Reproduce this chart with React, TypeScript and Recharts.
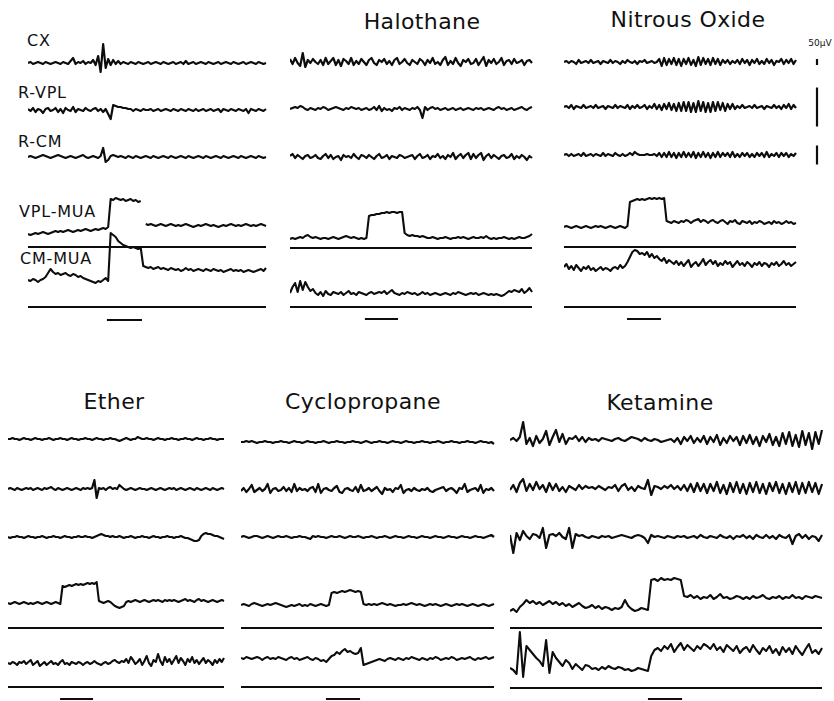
import React from 'react';
import { LineChart, Line, XAxis, YAxis, ReferenceLine } from 'recharts';

// ---------- channel / panel labels ----------
const channelLabels = ['CX', 'R-VPL', 'R-CM', 'VPL-MUA', 'CM-MUA'];
const panelTitles = ['', 'Halothane', 'Nitrous Oxide', 'Ether', 'Cyclopropane', 'Ketamine'];
const scaleBarLabel = '50µV';
const scaleBarSizes = [6, 39, 19]; // CX, R-VPL, R-CM (trace units)

// stimulus on/off (sample index)
const stimP1 = [31.5, 45.5];
const stimP2 = [29.4, 42.4];
const stimP3 = [25.8, 39.7];
const stimP4 = [22.9, 37.4];
const stimP5 = [31.9, 44.7];
const stimP6 = [42.0, 52.4];

// ---------- Panel 1 (control) ----------
const p1Cx = [0,1,-1,0,1,0,-1,1,0,-1,0,1, 0,-1,1,0,-1,2,5,-1,1,0,2,-1, 1,0,3,-2,7,-9,19,-5,4,-2,3,-1, 2,-1,1,0,-1,1,0,-1,1,0,-1,0, 1,-1,0,1,0,-1,1,0,-1,0,1,-1, 0,1,-1,2,-1,0,1,-1,0,1,0,-1, 1,0,-1,0,1,-1,0,1,0,-1,1,0, -1,0,1,-1,0,1,0,-1,1,0,-1,0];
const p1Vpl = [1,-1,2,-2,1,0,-3,1,2,-1,0,2, -2,1,-3,2,0,-1,3,-2,1,0,-1,2, 0,-1,1,2,-1,1,-2,1,-4,-9,5,4, 3,3,2,2,1,1,-1,1,0,-1,1,0, 0,1,-1,0,1,-1,0,1,0,-1,1,0, -1,1,0,-1,1,0,-1,1,-1,0,1,-1, 0,1,-1,0,1,-2,1,0,-1,1,0,-1, 1,0,-1,1,-3,1,0,-1,1,0,-1,1];
const p1Cm = [0,1,0,-1,0,1,2,1,0,-1,0,1, 2,1,0,-1,0,1,0,-1,0,1,2,0, -1,0,1,0,-1,1,9,-5,-3,1,2,1, 0,1,0,-1,1,0,-1,1,0,-1,0,1, 0,-1,1,0,-1,0,1,0,-1,1,0,-1, 0,1,0,-1,1,0,-1,0,1,0,-1,1, 0,-1,0,1,0,-1,1,0,-1,0,1,0, -1,1,0,-1,0,1,0,-1,1,0,-1,0];
const p1Vmua = [13,12,13,14,13,14,15,14,13,14,15,16, 15,16,15,16,17,16,15,16,17,16,17,18, 17,16,17,18,17,18,19,18,20,48,47,49, 48,47,48,46,47,48,46,47,45,46,null,23, 22,23,22,21,22,23,22,21,22,23,22,21, 22,21,22,23,22,21,20,21,22,21,22,23, 22,21,22,21,20,21,22,21,22,23,22,21, 22,21,22,23,22,21,22,21,22,23,22,21];
const p1Cmua = [27,26,28,27,25,27,28,30,34,38,35,33, 34,32,33,34,32,31,33,32,30,31,29,28, 27,26,25,24,26,25,27,29,26,74,72,70, 66,64,62,61,60,59,60,59,58,59,41,40, 39,40,38,39,40,38,39,38,37,39,38,37, 38,36,37,39,37,38,36,37,38,37,36,38, 37,36,38,37,36,37,35,36,37,38,36,37, 36,37,35,36,37,36,35,36,37,38,36,39];

// ---------- Panel 2 (Halothane) ----------
const p2Cx = [3,-2,4,-1,-4,9,-5,2,-1,3,0,-2, 2,-3,4,-2,1,4,-3,2,-4,3,1,-2, 4,-3,1,-2,3,0,-3,2,4,-1,-3,2, 0,3,-2,1,-3,2,4,-2,0,3,-1,-3, 2,0,-2,3,1,-3,2,-1,4,-2,0,-3, 2,5,-3,1,-2,4,-1,-4,2,0,3,-2, -1,3,-3,1,5,-4,2,-1,3,-2,0,4, -3,1,2,-2,3,-1,0,2,-3,1,2,-1];
const p2Vpl = [0,1,2,1,3,2,0,-1,1,0,-1,1, 0,2,1,-1,0,1,2,1,0,-1,1,0, 2,1,0,1,-1,0,1,-1,0,2,-1,3, -2,1,-1,0,-2,1,0,2,-1,1,0,-1, 1,0,2,-1,-9,2,-1,1,2,0,1,-1, 0,1,-1,0,1,-1,0,1,-1,0,1,0, -1,1,0,1,-1,0,1,0,-1,1,2,0, 1,-1,0,1,-1,0,1,2,0,-1,1,2];
const p2Cm = [1,3,-1,2,0,-2,1,2,-1,0,2,-1, -2,1,3,-1,2,-2,0,1,-3,2,0,1, -1,3,0,-2,2,1,-1,2,0,-2,1,3, -1,0,2,-2,1,0,-1,2,1,-1,0,1, 2,-2,1,3,-1,0,2,-2,1,0,3,-1, 1,-2,2,0,4,-2,1,3,-1,2,4,-2, 3,-1,2,4,-3,1,3,-1,2,0,-2,1, 2,-1,0,3,-2,1,-1,2,0,-3,1,-1];
const p2Vmua = [9,10,9,10,11,10,12,13,11,10,11,10, 9,10,10,9,10,11,10,9,10,11,12,11, 10,11,10,9,10,9,10,32,33,33,34,34, 35,35,36,35,36,36,35,36,36,15,13,12, 13,12,12,11,12,11,10,10,11,10,9,10, 10,11,10,9,10,10,11,10,11,10,9,10, 11,10,10,11,10,12,10,9,10,9,10,10, 11,10,9,10,9,10,11,10,10,11,12,14];
const p2Cmua = [14,20,24,15,26,17,25,20,16,18,14,12, 15,11,16,13,12,15,14,13,15,12,14,16, 13,14,12,15,14,13,12,14,15,13,14,15, 14,16,13,15,17,14,13,12,14,13,15,14, 13,14,12,13,15,13,14,12,13,14,13,12, 13,14,13,12,14,13,15,14,13,12,13,14, 13,14,12,13,14,13,12,13,12,13,12,11, 12,14,16,15,17,16,15,18,14,16,19,15];

// ---------- Panel 3 (Nitrous Oxide) ----------
const p3Cx = [0,1,-1,1,0,-2,2,-1,0,1,-1,2, -1,0,1,-2,1,0,-1,2,-1,1,0,-2, 1,-1,2,0,-1,1,-2,1,0,2,-1,0, 1,-1,0,3,-4,4,-3,3,-2,4,-3,3, -4,3,-2,4,-3,2,-4,5,-3,4,-2,3, -3,4,-2,3,-3,2,-1,2,-2,1,-1,2, -2,3,-1,2,-3,2,-1,3,-2,1,-2,3, -1,2,-3,1,0,3,-2,2,-1,3,-2,2];
const p3Vpl = [0,1,-1,2,-2,1,0,-1,2,-1,0,1, -1,2,-1,0,1,-2,1,0,-1,2,-1,1, 0,-1,2,-2,1,-1,2,-1,0,2,-2,1, -1,3,-2,2,-3,3,-2,4,-3,3,-4,4, -4,5,-4,5,-5,4,-5,6,-4,5,-5,4, -5,5,-4,5,-3,4,-4,3,-2,3,-2,1, -1,2,-1,0,1,-1,2,-1,0,1,-2,1, 0,-1,2,-1,1,-2,2,-1,3,-2,2,-1];
const p3Cm = [0,1,-1,1,-1,0,1,-1,2,-1,0,1, -1,1,0,-1,2,-1,1,0,-1,2,0,-1, 1,-1,0,2,0,3,1,0,0,0,1,0, 0,1,-1,2,-2,2,-2,3,-2,2,-3,2, -2,3,-2,2,-2,3,-3,2,-2,3,-2,2, -3,2,-2,3,-2,2,-1,2,-2,3,-2,1, -2,2,-1,2,-2,1,-2,2,-1,2,-2,3, -2,1,-1,2,-2,2,-1,2,-2,1,-1,2];
const p3Vmua = [20,21,20,19,20,21,20,19,20,21,20,19, 20,21,20,21,20,19,20,21,20,19,20,21, 20,19,21,45,46,47,48,47,48,47,48,49, 48,49,48,49,48,49,26,25,24,26,25,24, 26,25,27,26,24,26,27,28,25,27,26,24, 26,27,25,24,26,27,25,23,26,25,27,24, 23,26,25,24,26,23,25,24,26,25,23,24, 25,23,26,24,25,23,24,26,24,25,23,24];
const p3Cmua = [40,43,38,41,37,42,39,36,40,38,41,37, 39,36,38,40,37,39,38,36,39,40,38,42, 39,41,45,50,55,57,56,53,54,52,55,50, 53,49,51,48,46,49,44,47,45,43,46,42, 45,41,44,47,40,43,45,41,44,48,42,45, 47,43,46,41,44,42,46,43,45,40,43,46, 42,44,41,45,43,40,44,42,45,41,44,43, 40,44,42,45,41,43,46,42,44,41,43,45];

// ---------- Panel 4 (Ether) ----------
const p4Cx = [0,0,1,0,0,-1,0,1,0,0,-1,0, 1,0,0,-1,0,0,1,0,-1,0,0,1, 0,0,-1,0,1,0,0,-1,0,0,1,0, 0,-1,0,1,0,0,-1,0,0,1,0,0, -1,-2,-1,0,1,0,-1,0,0,2,1,0, 0,1,0,0,-1,0,1,0,0,-1,0,0, 1,0,0,-1,0,0,1,0,0,-1,0,1, 0,0,-1,0,0,1,0,0,-1,0,0,0];
const p4Vpl = [0,1,0,-1,1,0,-1,0,1,0,1,-1, 0,1,0,-1,1,0,1,2,0,-1,1,0, -1,0,1,0,-1,0,1,0,-1,1,0,1, 0,1,9,-9,1,0,1,-1,1,2,0,1, 0,4,2,0,-1,0,1,0,-1,0,1,0, 0,-1,0,1,0,-1,0,1,0,-1,0,1, 0,1,-1,0,1,0,-1,0,1,0,-1,1, 0,-1,0,1,0,-1,1,0,-1,0,1,0];
const p4Cm = [0,-1,0,0,1,0,0,-1,0,1,0,0, -1,0,0,1,0,-1,0,0,1,0,0,-1, 0,1,0,0,-1,0,0,1,0,0,1,0, 0,-1,0,1,2,3,2,1,1,0,1,0, 0,1,0,-1,0,0,1,0,-1,0,0,1, 0,0,-1,0,1,0,0,-1,0,0,1,0, 0,-1,0,0,1,0,-1,-1,-2,-3,-4,-4, -3,1,3,4,3,3,2,1,1,0,-1,-2];
const p4Vmua = [25,24,25,26,25,24,25,26,25,24,25,24, 25,26,25,24,25,26,25,24,25,26,25,24, 42,41,42,43,42,43,44,43,44,43,44,45, 44,45,44,46,27,26,25,26,27,26,24,22, 21,20,21,22,26,27,26,27,28,27,26,27, 28,27,26,27,28,27,28,27,26,28,27,28, 27,28,27,26,27,28,29,27,28,27,26,28, 29,27,28,27,26,27,28,27,26,27,28,27];
const p4Cmua = [24,23,25,24,22,25,24,26,23,25,27,22, 24,26,21,23,25,22,24,26,23,24,22,25, 27,23,24,22,25,24,23,25,24,22,24,25, 23,24,26,24,23,22,24,25,23,24,26,27, 25,24,26,25,28,24,30,27,23,25,28,22, 26,31,24,21,27,25,33,26,22,30,25,28, 23,27,31,24,29,26,22,28,25,30,24,27, 23,26,29,24,27,25,22,27,24,28,25,29];

// ---------- Panel 5 (Cyclopropane) ----------
const p5Cx = [0,0,1,0,1,0,-1,0,0,1,0,0, -1,0,0,1,0,0,-1,0,1,0,0,-1, 0,1,0,0,-1,0,0,1,0,-1,0,0, 1,0,0,-1,0,0,1,0,0,-1,0,1, 0,-1,0,0,1,0,0,-1,0,1,0,0, -1,0,1,0,0,-1,0,0,1,0,0,-1, 0,0,1,0,-1,0,0,1,0,0,-1,0, 0,1,0,0,-1,0,1,0,0,-1,0,-2];
const p5Vpl = [-1,2,-2,1,5,-2,0,2,-1,1,6,-3, 1,2,-1,0,3,-1,2,-2,6,-1,2,0, 1,-1,2,3,-2,6,-3,1,2,0,-1,2, 4,-2,-3,1,2,0,-1,3,-2,5,-1,0, 2,-1,1,3,-1,-4,2,0,1,-2,2,1, 5,-3,0,1,-1,2,0,-1,1,0,2,-1, -2,0,1,2,3,-1,1,2,0,-3,2,1, 6,-2,0,1,2,-1,5,-3,1,0,2,-1];
const p5Cm = [0,1,0,-1,0,1,1,0,-1,0,1,0, -1,0,1,0,0,1,0,-1,0,0,1,0, 0,-1,-2,1,0,1,0,0,-1,0,1,0, 0,1,0,-1,0,1,0,0,1,0,-1,0, 0,1,0,-1,0,0,1,0,-1,0,1,0, 0,-1,0,1,0,0,-1,0,1,0,0,-1, 0,1,0,0,-1,0,1,0,0,-1,0,1, 0,0,-1,0,1,0,0,-1,0,1,2,0];
const p5Vmua = [23,24,23,22,24,25,24,23,22,23,24,23, 24,25,24,23,22,21,22,23,22,23,24,22, 23,22,24,23,22,23,24,23,22,23,35,36, 35,36,37,36,37,38,37,36,37,36,24,23, 24,23,24,23,24,25,24,23,24,23,22,23, 23,24,23,24,25,24,23,24,23,22,23,24, 23,24,23,22,23,24,23,22,23,24,23,24, 23,22,23,24,23,22,23,24,23,22,23,24];
const p5Cmua = [29,28,30,29,28,29,30,29,27,29,30,28, 29,28,30,29,28,27,29,30,28,29,27,28, 29,30,28,27,29,28,26,27,25,28,31,32, 35,33,36,38,35,36,34,33,34,39,22,23, 24,25,26,27,28,27,26,28,29,28,27,29, 28,27,29,28,30,29,28,27,29,28,27,29, 28,30,29,27,28,29,28,30,29,27,28,29, 28,29,30,28,27,29,28,29,30,28,29,30];

// ---------- Panel 6 (Ketamine) ----------
const p6Cx = [0,2,-1,3,18,-4,2,-6,4,-3,1,9, -5,3,10,-2,6,-4,2,1,4,-1,3,-2, 2,0,1,-1,2,1,0,-1,1,2,0,-1, 1,3,2,1,-1,2,0,-1,1,0,-2,-1, 0,1,-2,2,-4,3,-1,4,-3,2,-2,4, -4,3,-2,5,-5,2,-3,4,-1,3,-5,4, -3,5,-4,3,-6,4,-2,6,-5,3,-6,7, -4,8,-6,5,-7,9,-5,7,-9,8,-4,10];
const p6Vpl = [-2,3,-4,5,9,-3,4,-2,6,-1,3,-4, 5,-2,4,-3,1,-4,2,0,-2,3,-1,2, 0,1,-1,2,0,-2,1,0,3,-3,2,4, -2,1,-3,2,0,-1,8,-7,2,1,-1,2, 0,3,-1,2,-2,3,-3,4,-4,5,-3,4, -5,4,-3,6,-5,3,-6,5,-4,6,-5,4, -6,5,-4,6,-5,4,-6,5,-3,6,-5,4, -6,5,-4,6,-6,5,-5,6,-4,5,-6,4];
const p6Cm = [2,-16,4,-3,6,1,-2,3,2,-1,9,-11, 2,3,1,4,0,-2,9,-11,3,1,2,0, -1,1,0,-1,1,0,1,-1,0,1,2,1, 0,-1,1,2,1,-1,-6,2,0,1,0,-1, 1,0,-1,1,0,1,-1,0,1,-1,2,0, -1,1,0,-1,2,0,-1,1,-2,1,0,2, -1,1,-2,2,0,-1,2,-1,1,-2,2,0, -1,2,-7,1,3,-1,2,-2,1,0,-4,2];
const p6Vmua = [17,19,16,21,24,28,25,27,24,26,23,25, 27,24,26,23,25,22,24,21,23,25,22,20, 21,23,20,22,19,21,20,18,20,19,21,28, 22,19,17,18,20,19,18,48,49,47,50,48, 49,48,50,49,48,32,31,33,30,32,29,31, 30,33,29,31,34,30,31,29,30,32,31,29, 31,29,32,30,31,33,30,29,31,30,32,29, 31,30,33,30,31,29,32,31,30,32,31,30];
const p6Cmua = [20,18,14,56,11,42,38,34,30,27,22,48, 15,36,30,26,22,28,25,19,24,21,18,23, 22,19,20,18,21,19,22,20,19,21,20,18, 19,17,18,20,19,18,17,32,38,40,37,42, 39,44,36,41,45,38,43,40,37,42,39,44, 42,39,44,38,41,36,43,40,37,42,35,39, 41,36,43,38,34,40,37,42,35,39,33,41, 36,40,34,42,37,33,39,44,35,38,34,40];

// ---------- layout ----------
type Rows = { cx: number; vpl: number; cm: number; vmua: number; cmua: number; stim: number };
type Cfg = {
  id: string;
  title: string;
  titleX: number;
  titleY: number;
  left: number;
  right: number;
  top: number;
  rows: Rows;
  series: { cx: number[]; vpl: number[]; cm: number[]; vmua: (number | null)[]; cmua: number[] };
  stim: number[];
  scaleBarX?: number;
};

const CHART_H = 325;
const INK = '#0d0d0d';

const panels: Cfg[] = [
  { id: 'p1', title: panelTitles[0], titleX: 0, titleY: 0, left: 28, right: 266, top: 0,
    rows: { cx: 63, vpl: 110, cm: 157, vmua: 247, cmua: 307, stim: 320 },
    series: { cx: p1Cx, vpl: p1Vpl, cm: p1Cm, vmua: p1Vmua, cmua: p1Cmua }, stim: stimP1 },
  { id: 'p2', title: panelTitles[1], titleX: 422, titleY: 22, left: 290, right: 532, top: 0,
    rows: { cx: 62, vpl: 109, cm: 157, vmua: 248, cmua: 307, stim: 319 },
    series: { cx: p2Cx, vpl: p2Vpl, cm: p2Cm, vmua: p2Vmua, cmua: p2Cmua }, stim: stimP2 },
  { id: 'p3', title: panelTitles[2], titleX: 688, titleY: 20, left: 564, right: 796, top: 0,
    rows: { cx: 62, vpl: 107, cm: 155, vmua: 247, cmua: 307, stim: 319 },
    series: { cx: p3Cx, vpl: p3Vpl, cm: p3Cm, vmua: p3Vmua, cmua: p3Cmua }, stim: stimP3, scaleBarX: 817 },
  { id: 'p4', title: panelTitles[3], titleX: 114, titleY: 402, left: 8, right: 224, top: 380,
    rows: { cx: 59, vpl: 109, cm: 157, vmua: 248, cmua: 307, stim: 319 },
    series: { cx: p4Cx, vpl: p4Vpl, cm: p4Cm, vmua: p4Vmua, cmua: p4Cmua }, stim: stimP4 },
  { id: 'p5', title: panelTitles[4], titleX: 363, titleY: 402, left: 241, right: 494, top: 380,
    rows: { cx: 62, vpl: 110, cm: 157, vmua: 248, cmua: 307, stim: 319 },
    series: { cx: p5Cx, vpl: p5Vpl, cm: p5Cm, vmua: p5Vmua, cmua: p5Cmua }, stim: stimP5 },
  { id: 'p6', title: panelTitles[5], titleX: 660, titleY: 403, left: 510, right: 822, top: 380,
    rows: { cx: 60, vpl: 108, cm: 157, vmua: 248, cmua: 308, stim: 319 },
    series: { cx: p6Cx, vpl: p6Vpl, cm: p6Cm, vmua: p6Vmua, cmua: p6Cmua }, stim: stimP6 },
];

const keys: (keyof Rows)[] = ['cx', 'vpl', 'cm', 'vmua', 'cmua', 'stim'];

function Panel({ cfg }: { cfg: Cfg }) {
  const n = cfg.series.cx.length;
  const pxPerT = (cfg.right - cfg.left) / (n - 1);
  const width = (cfg.scaleBarX ? cfg.scaleBarX + 4 : cfg.right + 1) - cfg.left;
  const tMax = width / pxPerT;
  const table = cfg.series.cx.map((_, i) => ({
    t: i,
    cx: cfg.series.cx[i],
    vpl: cfg.series.vpl[i],
    cm: cfg.series.cm[i],
    vmua: cfg.series.vmua[i],
    cmua: cfg.series.cmua[i],
  }));
  const sbT = cfg.scaleBarX ? (cfg.scaleBarX - cfg.left) / pxPerT : 0;
  return (
    <div style={{ position: 'absolute', left: cfg.left, top: cfg.top, width, height: CHART_H }}>
      <LineChart width={width} height={CHART_H} data={table} margin={{ top: 0, right: 0, bottom: 0, left: 0 }}>
        <XAxis type="number" dataKey="t" domain={[0, tMax]} hide allowDataOverflow />
        {keys.map((k) => (
          <YAxis key={k} yAxisId={k} type="number" hide allowDataOverflow
            domain={[cfg.rows[k] - CHART_H, cfg.rows[k]]} />
        ))}
        <ReferenceLine yAxisId="vmua" segment={[{ x: 0, y: 0 }, { x: n - 1, y: 0 }]} stroke={INK} strokeWidth={2.2} />
        <ReferenceLine yAxisId="cmua" segment={[{ x: 0, y: 0 }, { x: n - 1, y: 0 }]} stroke={INK} strokeWidth={2.2} />
        <ReferenceLine yAxisId="stim" segment={[{ x: cfg.stim[0], y: 0 }, { x: cfg.stim[1], y: 0 }]} stroke={INK} strokeWidth={1.8} />
        {cfg.scaleBarX ? (
          ['cx', 'vpl', 'cm'].map((k, j) => (
            <ReferenceLine key={'sb' + k} yAxisId={k}
              segment={[{ x: sbT, y: -scaleBarSizes[j] / 2 }, { x: sbT, y: scaleBarSizes[j] / 2 }]}
              stroke={INK} strokeWidth={2.2} />
          ))
        ) : null}
        {(['cx', 'vpl', 'cm', 'vmua', 'cmua'] as const).map((k) => (
          <Line key={k} yAxisId={k} dataKey={k} type="linear" stroke={INK}
            strokeWidth={k === 'vmua' || k === 'cmua' ? 2.1 : 2.2}
            dot={false} activeDot={false} isAnimationActive={false} connectNulls={false}
            strokeLinejoin="round" />
        ))}
      </LineChart>
    </div>
  );
}

const labelPos = [
  { x: 27, y: 41 },
  { x: 18, y: 93 },
  { x: 18, y: 142 },
  { x: 19, y: 212 },
  { x: 20, y: 259 },
];

export default function App() {
  return (
    <div style={{ position: 'absolute', left: 0, top: 0, width: 834, height: 701, overflow: 'hidden', background: '#fff', fontFamily: '"DejaVu Sans", sans-serif', color: '#111' }}>
      {panels.map((p) => (
        <Panel key={p.id} cfg={p} />
      ))}
      {panels.filter((p) => p.title).map((p) => (
        <div key={'t' + p.id} style={{ position: 'absolute', left: p.titleX - 150, top: p.titleY - 11, width: 300, textAlign: 'center', fontSize: 22, lineHeight: '22px', letterSpacing: 0.4 }}>
          {p.title}
        </div>
      ))}
      {channelLabels.map((l, i) => (
        <div key={l} style={{ position: 'absolute', left: labelPos[i].x, top: labelPos[i].y - 8, fontSize: 16, lineHeight: '16px', letterSpacing: 0.8, whiteSpace: 'nowrap' }}>
          {l}
        </div>
      ))}
      <div style={{ position: 'absolute', left: 805, top: 38, width: 30, textAlign: 'center', fontSize: 9, lineHeight: '10px' }}>
        {scaleBarLabel}
      </div>
    </div>
  );
}
